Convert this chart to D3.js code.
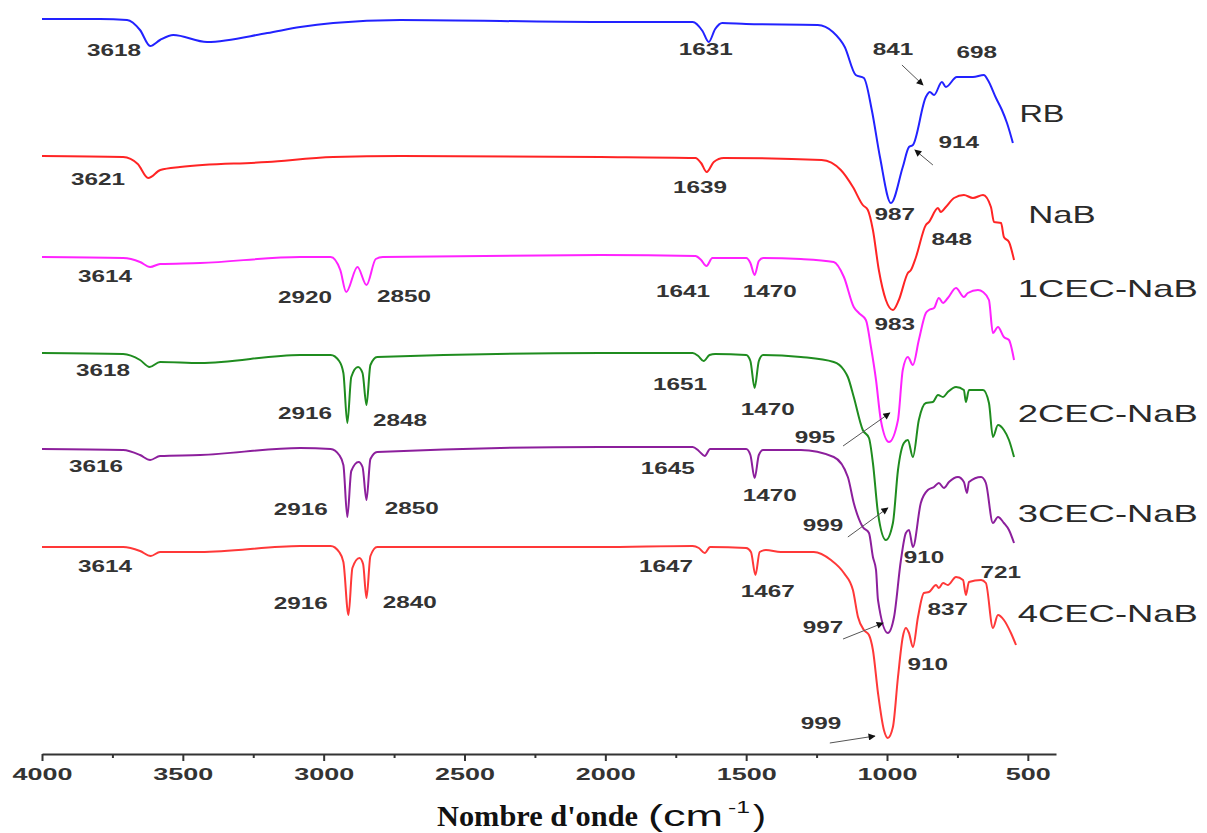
<!DOCTYPE html>
<html>
<head>
<meta charset="utf-8">
<script src="https://cdn.jsdelivr.net/npm/d3@7"></script>
<style>
  body { margin: 0; background: #fff; }
</style>
</head>
<body>
<svg id="chart"></svg>
<script>
// ===================== DATA =====================
// [wavenumber (cm-1), transmittance relative to the series baseline (a.u.)]
const rb = [[4000,0],[3794,0],[3698,-0.5],[3652,-5.5],[3616,-13.5],[3581,-10.5],[3534,-8],[3414,-11.5],[3200,-7],[3083,-4],[2966,-2],[2728,-0.5],
  [2017,-1.5],[1690,-1.5],[1655,-6],[1633,-11.5],[1610,-5],[1585,-2],[1500,-2.5],[1246,-3],[1192,-6.5],[1150,-14],[1111,-28],[1082,-29.5],
  [1054,-45.5],[1025,-69],[986,-92],[944,-74],[922,-64],[908,-63],[862,-39],[848,-36.5],[833,-38],[805,-31.5],[791,-34],[752,-29],
  [695,-29],[656,-28],[642,-30.5],[613,-39.5],[592,-45.5],[574,-52],[553,-62]];

const nab = [[4000,0],[3712,-0.5],[3660,-4],[3623,-11],[3580,-7],[3510,-5.5],[3200,-3],[2966,-0.5],[2728,0],[2017,-0.5],[1680,-1],[1660,-3.5],
  [1640,-8],[1615,-3],[1580,-1],[1232,-2],[1164,-7],[1121,-15.5],[1086,-24.5],[1068,-27],[1050,-37],[1029,-57],[1004,-72],[979,-77],
  [958,-72],[926,-58.5],[915,-57],[897,-50.5],[862,-34.5],[851,-33],[819,-26],[809,-28],[791,-25.5],[762,-21],[727,-19.5],[695,-21],
  [659,-19.5],[631,-25.5],[620,-33],[595,-33.5],[585,-40.5],[567,-43],[549,-52]];

const cec1 = [[4000,0],[3712,-0.5],[3652,-2.5],[3616,-5],[3581,-3.5],[3438,-3],[3083,0],[2975,0],[2941,-6.5],[2920,-17.5],[2880,-5],[2848,-14],
  [2815,-1],[2790,0],[2017,1],[1680,0.5],[1660,-1.5],[1641,-4.5],[1620,-0.5],[1500,-0.5],[1485,-3],[1470,-9],[1455,-2],[1440,-0.5],
  [1306,-1],[1189,-2.5],[1153,-10],[1118,-25],[1100,-28],[1075,-31.5],[1057,-45],[1039,-61.5],[1022,-81.5],[993,-92.5],[961,-81.5],
  [944,-56.5],[926,-50],[908,-54],[887,-41.5],[862,-28],[851,-26.5],[833,-25.5],[816,-20.5],[801,-23],[784,-20.5],[755,-15.5],
  [727,-20],[713,-18],[677,-16.5],[659,-17.5],[638,-21.5],[624,-38],[606,-35],[585,-40],[567,-41.5],[549,-51.5]];

const cec2 = [[4000,0],[3712,-0.5],[3652,-3.5],[3618,-7],[3581,-4.5],[3438,-5],[3083,-1],[2975,-1],[2945,-4],[2930,-10],[2916,-35],[2902,-12],
  [2878,-7],[2862,-10],[2848,-26],[2834,-6],[2810,-2],[2017,0],[1690,0],[1670,-1.5],[1651,-4],[1630,-1],[1610,-0.5],[1500,-1],[1485,-4],
  [1470,-17.5],[1455,-4],[1440,-1],[1306,-2],[1189,-4.5],[1153,-8.5],[1139,-12],[1118,-22],[1086,-38.5],[1064,-42.5],[1050,-55],
  [1032,-80],[1004,-93.5],[979,-85],[961,-58.5],[940,-45],[926,-43.5],[908,-52],[887,-33.5],[862,-25],[837,-24.5],[819,-21],[801,-22],
  [784,-19.5],[755,-17],[727,-18.5],[720,-24.5],[709,-18.5],[659,-18.5],[638,-25],[624,-42],[606,-36],[585,-38.5],[567,-43.5],[549,-52]];

const cec3 = [[4000,0],[3712,-0.5],[3652,-3],[3616,-5.5],[3581,-3.5],[3438,-3],[3083,0.5],[2975,0],[2945,-3],[2930,-8],[2916,-34],[2902,-11],
  [2876,-6.5],[2862,-9],[2848,-25.5],[2834,-5],[2810,-1.5],[2017,1],[1690,1],[1668,-1],[1647,-3.5],[1628,0],[1500,0],[1485,-3],
  [1470,-14.5],[1455,-3],[1440,-0.5],[1306,-0.5],[1189,-4],[1139,-14],[1118,-27],[1086,-39],[1064,-42],[1050,-54],[1039,-60.5],
  [1032,-75.5],[997,-92],[975,-84],[951,-56],[933,-42],[922,-40.5],[908,-49],[880,-27],[855,-20.5],[833,-19],[816,-17],[798,-19.5],
  [780,-16.5],[748,-14],[727,-16.5],[716,-22],[709,-16.5],[666,-14],[649,-17],[624,-37],[606,-34],[585,-37],[567,-40.5],[549,-47]];

const cec4 = [[4000,-0.5],[3712,-0.5],[3652,-2.5],[3614,-5],[3581,-3],[3438,-3],[3083,0],[2975,0],[2945,-3],[2930,-8],[2912,-34.5],[2898,-11],
  [2873,-6],[2860,-9],[2848,-26],[2834,-5],[2810,-0.5],[2017,-0.5],[1690,0],[1668,-1],[1647,-3.5],[1628,-0.5],[1500,-1],[1483,-3],
  [1467,-14.5],[1452,-3],[1430,-2],[1377,-3],[1260,-3],[1199,-7],[1153,-13.5],[1121,-22],[1103,-35.5],[1082,-42],[1064,-44.5],
  [1050,-52],[1032,-73.5],[1011,-92],[997,-96],[979,-90.5],[961,-65.5],[944,-45.5],[933,-41],[922,-43.5],[908,-50.5],[890,-35.5],
  [869,-23.5],[851,-23],[826,-19.5],[816,-21],[801,-18.5],[784,-19.5],[755,-15.5],[730,-17],[720,-24.5],[709,-18],[666,-17],
  [649,-18.5],[624,-41],[606,-34.5],[585,-37],[560,-43.5],[542,-49.5]];

const seriesNames  = ["RB", "NaB", "1CEC-NaB", "2CEC-NaB", "3CEC-NaB", "4CEC-NaB"];
const seriesData   = [rb, nab, cec1, cec2, cec3, cec4];
const seriesOffset = [367.5, 299, 248.5, 200.5, 152.5, 104];   // vertical stacking offset (a.u.)
const seriesColors = ["#2222ff", "#ff2424", "#ff22ff", "#1f8c1f", "#8c1f9c", "#ff3838"];
const seriesLabelAt = [[450, 320.5], [379, 270], [216, 233], [216, 170.5], [216, 120.5], [216, 70.5]];

const xTicks = [4000, 3500, 3000, 2500, 2000, 1500, 1000, 500];
const xMinorTicks = [3750, 3250, 2750, 2250, 1750, 1250, 750];

// peak labels: [text, wavenumber, level (a.u.)]
const peakLabels = [
  ["3618", 3744, 352], ["1631", 1643, 352.5], ["841", 979, 352.5], ["698", 681, 351], ["914", 745, 306],
  ["3621", 3801, 287.5], ["1639", 1664, 283.5], ["987", 972, 270], ["848", 770, 257.5], ["983", 972, 215],
  ["3614", 3776, 239], ["2920", 3066, 228.5], ["2850", 2715, 229], ["1641", 1724, 231.5], ["1470", 1416, 231.5],
  ["3618", 3783, 192], ["2916", 3066, 170.5], ["2848", 2729, 167], ["1651", 1735, 185], ["1470", 1423, 172.5], ["995", 1256, 158.5],
  ["3616", 3808, 144], ["2916", 3081, 122.5], ["2850", 2687, 123], ["1645", 1778, 143], ["1470", 1416, 129.5], ["999", 1227, 114.5], ["910", 869, 98.5],
  ["721", 596, 91], ["3614", 3776, 94], ["2916", 3081, 75.5], ["2840", 2694, 76], ["1647", 1785, 94], ["1467", 1423, 81.5],
  ["997", 1227, 63.5], ["837", 784, 72.5], ["910", 855, 45], ["999", 1234, 15.5]
];

// arrows: [from wn, from level, to wn, to level]
const arrows = [
  [947, 344.5, 872, 334.5],
  [837, 294.5, 901, 302],
  [1156, 154, 990, 170.5],
  [1139, 108.5, 997, 123],
  [1156, 57.5, 1014, 65.5],
  [1203, 5.5, 1043, 9]
];

// ===================== CHART =====================
const width = 1207, height = 833;
const svg = d3.select("#chart").attr("width", width).attr("height", height);

const xs = d3.scaleLinear().domain([4000, 400]).range([42, 1056]);
const ys = d3.scaleLinear().domain([0, 377]).range([754, 0]);

// arrowhead
svg.append("defs").append("marker")
  .attr("id", "head")
  .attr("viewBox", "0 0 10 10")
  .attr("refX", 9).attr("refY", 5)
  .attr("markerWidth", 9).attr("markerHeight", 7)
  .attr("markerUnits", "userSpaceOnUse")
  .attr("orient", "auto")
  .append("path").attr("d", "M0,0 L10,5 L0,10 z").attr("fill", "#111");

// spectra
seriesData.forEach(function(data, i) {
  const line = d3.line()
    .x(d => xs(d[0]))
    .y(d => ys(seriesOffset[i] + d[1]))
    .curve(d3.curveMonotoneX);
  svg.append("path")
    .datum(data)
    .attr("fill", "none")
    .attr("stroke", seriesColors[i])
    .attr("stroke-width", 2)
    .attr("stroke-linejoin", "round")
    .attr("d", line);
});

// series names
svg.append("g").selectAll("text")
  .data(seriesNames)
  .enter().append("text")
  .attr("x", (d, i) => xs(seriesLabelAt[i][0]))
  .attr("y", (d, i) => ys(seriesLabelAt[i][1]))
  .attr("dy", "0.36em")
  .attr("text-anchor", "middle")
  .attr("textLength", d => d.length * 22.5)
  .attr("lengthAdjust", "spacingAndGlyphs")
  .style("font-family", "'Liberation Sans', Arial, sans-serif")
  .style("font-size", "24px")
  .attr("fill", "#2a2a2a")
  .text(d => d);

// peak labels
svg.append("g").selectAll("text")
  .data(peakLabels)
  .enter().append("text")
  .attr("x", d => xs(d[1]))
  .attr("y", d => ys(d[2]))
  .attr("dy", "0.36em")
  .attr("text-anchor", "middle")
  .attr("textLength", d => d[0].length * 13.5)
  .attr("lengthAdjust", "spacingAndGlyphs")
  .style("font-family", "'Liberation Sans', Arial, sans-serif")
  .style("font-size", "17px")
  .style("font-weight", "bold")
  .attr("fill", "#333")
  .text(d => d[0]);

// arrows
svg.append("g").selectAll("line")
  .data(arrows)
  .enter().append("line")
  .attr("x1", d => xs(d[0])).attr("y1", d => ys(d[1]))
  .attr("x2", d => xs(d[2])).attr("y2", d => ys(d[3]))
  .attr("stroke", "#555")
  .attr("stroke-width", 1)
  .attr("marker-end", "url(#head)");

// ================== AXES ==================
const axisY = ys(0);

svg.append("g")
  .attr("transform", "translate(0," + axisY + ")")
  .call(d3.axisBottom(xs).tickValues(xMinorTicks).tickSize(4).tickSizeOuter(0).tickFormat(""))
  .call(g => g.select(".domain").remove())
  .selectAll("line").attr("stroke", "#333").attr("stroke-width", 2);

const xAxis = svg.append("g")
  .attr("transform", "translate(0," + axisY + ")")
  .call(d3.axisBottom(xs).tickValues(xTicks).tickSize(7).tickSizeOuter(0).tickPadding(7).tickFormat(d3.format("d")));

xAxis.select(".domain").attr("stroke", "#333").attr("stroke-width", 2);
xAxis.selectAll(".tick line").attr("stroke", "#333").attr("stroke-width", 2);
xAxis.selectAll(".tick text")
  .attr("fill", "#333")
  .style("font-family", "'Liberation Sans', Arial, sans-serif")
  .style("font-size", "17px")
  .style("font-weight", "bold")
  .attr("textLength", d => String(d).length * 15)
  .attr("lengthAdjust", "spacingAndGlyphs");

// axis title
svg.append("text")
  .attr("x", 437).attr("y", 826)
  .attr("textLength", 201).attr("lengthAdjust", "spacingAndGlyphs")
  .style("font-family", "'Liberation Serif', 'Times New Roman', serif")
  .style("font-size", "30px").style("font-weight", "bold")
  .attr("fill", "#111")
  .text("Nombre d'onde");

svg.append("text")
  .attr("x", 648).attr("y", 826)
  .attr("textLength", 75).attr("lengthAdjust", "spacingAndGlyphs")
  .style("font-family", "'Liberation Sans', Arial, sans-serif")
  .style("font-size", "30px")
  .attr("fill", "#111")
  .text("(cm");

svg.append("text")
  .attr("x", 728).attr("y", 813)
  .attr("textLength", 22).attr("lengthAdjust", "spacingAndGlyphs")
  .style("font-family", "'Liberation Sans', Arial, sans-serif")
  .style("font-size", "17px")
  .attr("fill", "#111")
  .text("-1");

svg.append("text")
  .attr("x", 753).attr("y", 826)
  .attr("textLength", 13).attr("lengthAdjust", "spacingAndGlyphs")
  .style("font-family", "'Liberation Sans', Arial, sans-serif")
  .style("font-size", "30px")
  .attr("fill", "#111")
  .text(")");
</script>
</body>
</html>
